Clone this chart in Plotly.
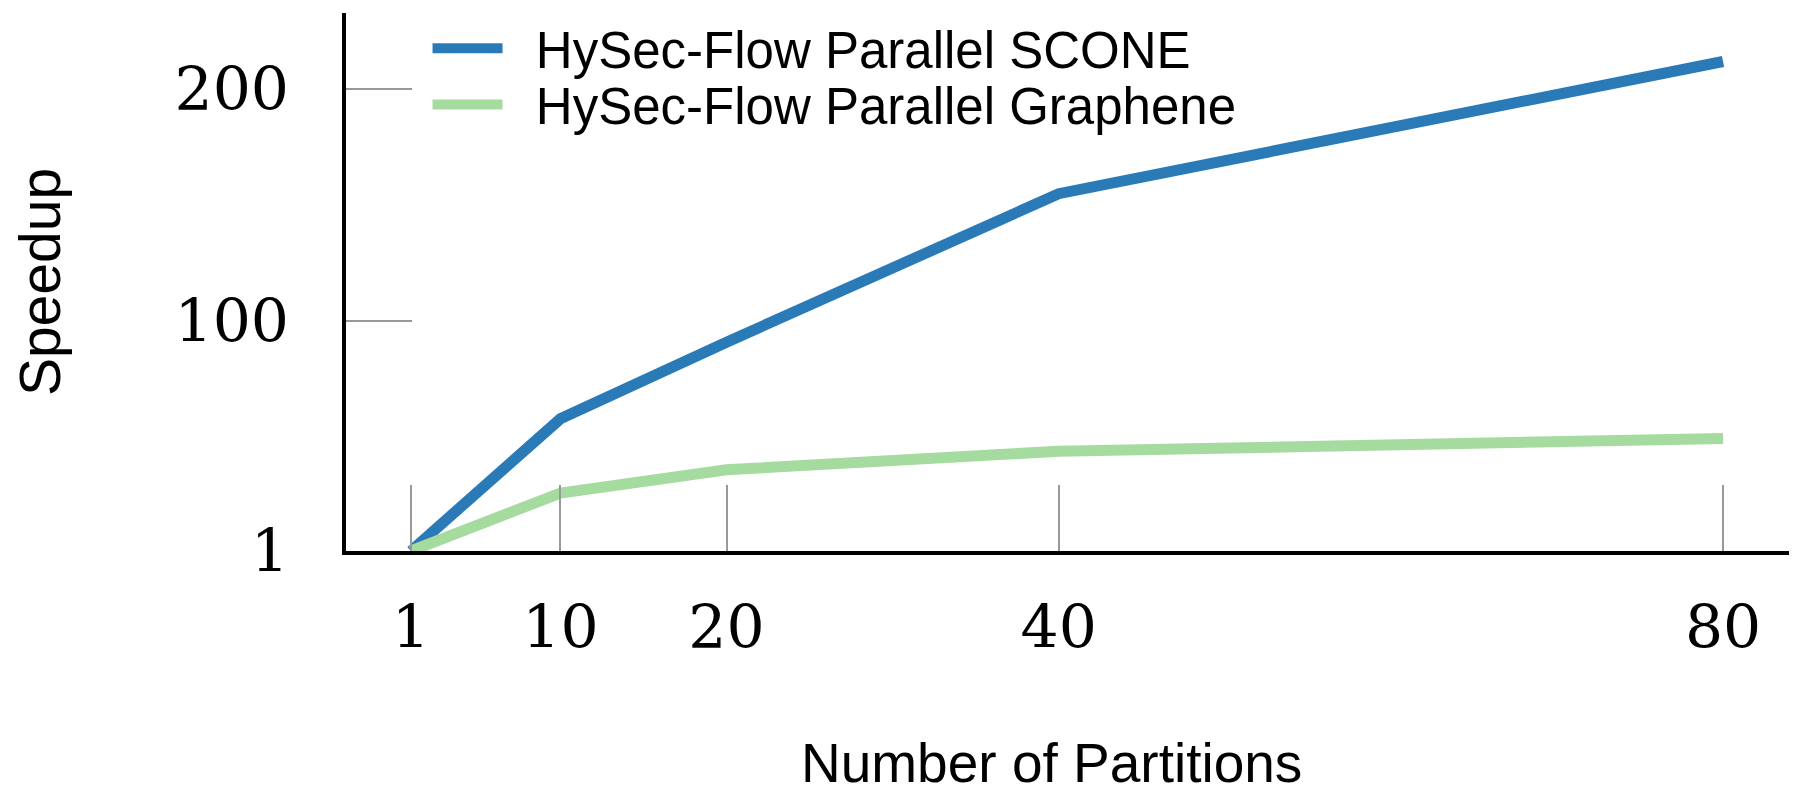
import plotly.graph_objects as go

partitions = [1, 10, 20, 40, 80]
scone_speedup = [1, 58, 91, 155, 212]
graphene_speedup = [1, 26, 36, 44, 49.5]

x_ticks = [1, 10, 20, 40, 80]
y_ticks = [1, 100, 200]

BLUE = "#2a7ab8"
GREEN = "#a6dba0"

# a little extra room between legend line and label, as in the original
PAD = "\u00a0\u00a0"

fig = go.Figure()
fig.add_trace(go.Scatter(x=partitions, y=scone_speedup, mode="lines",
                         name=PAD + "HySec-Flow Parallel SCONE", showlegend=True,
                         line=dict(color=BLUE, width=11), legend="legend"))
fig.add_trace(go.Scatter(x=partitions, y=graphene_speedup, mode="lines",
                         name=PAD + "HySec-Flow Parallel Graphene", showlegend=True,
                         line=dict(color=GREEN, width=11), legend="legend2"))

tick_font = dict(family="DejaVu Serif", size=60, color="black")

fig.update_xaxes(range=[-2.91, 83.97], tickvals=x_ticks, ticktext=[str(v) for v in x_ticks],
                 showgrid=False, zeroline=False, showline=True, linecolor="black", linewidth=4,
                 ticks="inside", ticklen=66, tickwidth=2, tickcolor="#999999",
                 tickfont=tick_font, ticklabelstandoff=21)
fig.update_yaxes(range=[1, 232.9], tickvals=y_ticks, ticktext=[str(v) for v in y_ticks],
                 showgrid=False, zeroline=False, showline=True, linecolor="black", linewidth=4,
                 ticks="inside", ticklen=66, tickwidth=2, tickcolor="#999999",
                 tickfont=tick_font, ticklabelstandoff=41,
                 title=dict(text="Speedup",
                            font=dict(family="Liberation Sans", size=57, color="black"),
                            standoff=116))

# x axis title sits a bit left of the plot centre in the original
fig.add_annotation(text="Number of Partitions", xref="paper", yref="paper",
                   x=0.489, y=-0.394, xanchor="center", yanchor="middle", showarrow=False,
                   font=dict(family="Liberation Sans", size=55, color="black"))

legend_style = dict(x=0.0565, xanchor="left", yanchor="top", visible=True,
                    font=dict(family="Liberation Sans", size=51, color="black"),
                    itemwidth=70, bgcolor="rgba(0,0,0,0)")

fig.update_layout(
    width=1800, height=797, showlegend=True,
    margin=dict(l=338, r=19, t=5, b=254, autoexpand=False),
    plot_bgcolor="white", paper_bgcolor="white",
    legend=dict(y=1.008, **legend_style),
    legend2=dict(y=0.9035, **legend_style),
)

fig.write_html("out.html")
